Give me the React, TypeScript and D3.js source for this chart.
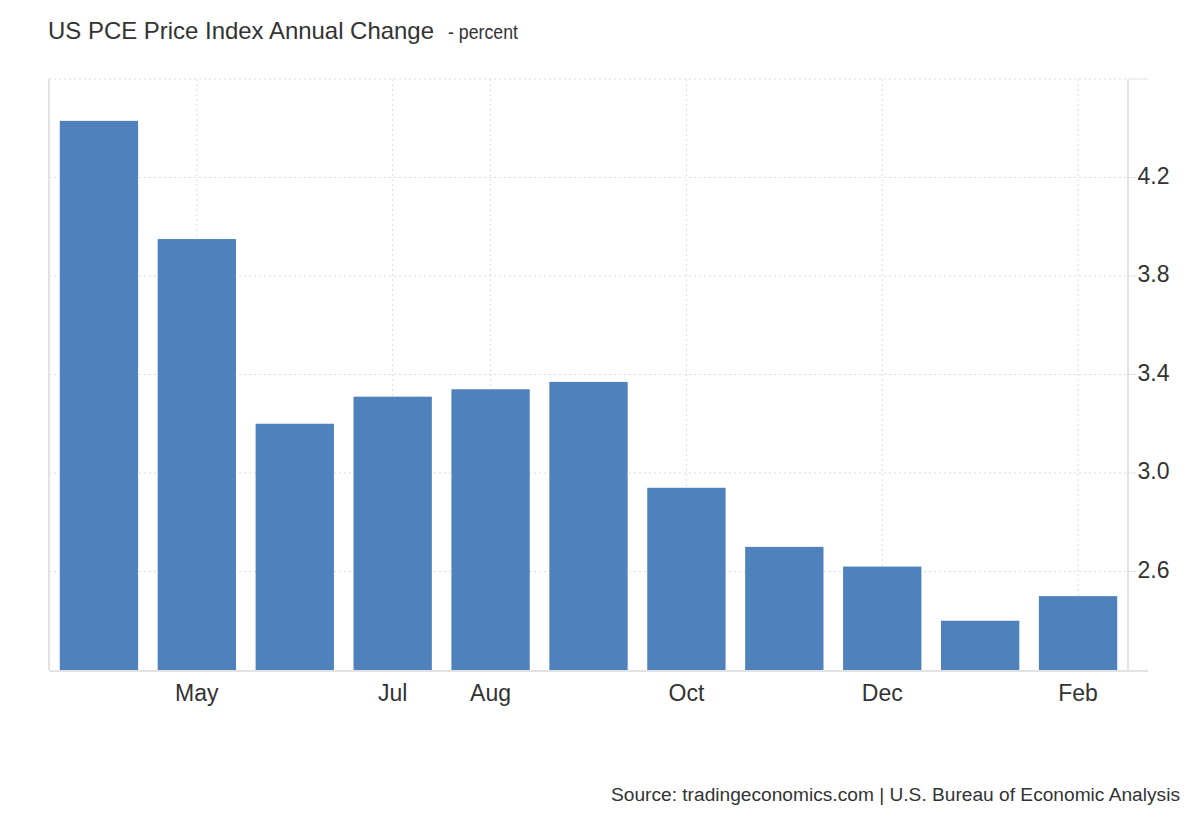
import React from "react";
import * as d3 from "d3";

const months = ["Apr", "May", "Jun", "Jul", "Aug", "Sep", "Oct", "Nov", "Dec", "Jan", "Feb"];
const values = [4.43, 3.95, 3.2, 3.31, 3.34, 3.37, 2.94, 2.7, 2.62, 2.4, 2.5];
const xTickLabels = ["May", "Jul", "Aug", "Oct", "Dec", "Feb"];
const yTicks = [2.6, 3.0, 3.4, 3.8, 4.2, 4.6];
const yLabels = [2.6, 3.0, 3.4, 3.8, 4.2];

const W = 1200;
const H = 820;
const left = 49;
const right = 1128;
const top = 79;
const bottom = 670;
const FONT = "'Liberation Sans', Arial, Helvetica, sans-serif";

export default function App() {
  const x = d3.scaleBand<string>().domain(months).range([left, right]).paddingInner(0.2).paddingOuter(0.11);
  const y = d3.scaleLinear().domain([2.2, 4.6]).range([bottom, top]);
  const grid = "#dcdcdc";
  const axis = "#e2e2e2";
  return (
    <svg width={W} height={H} style={{ position: "absolute", left: 0, top: 0, background: "#fff" }} fontFamily={FONT}>
      <rect x={0} y={0} width={W} height={H} fill="#fff" />
      <text x={48} y={38.5} fontSize={24} fill="#333" textLength={386} lengthAdjust="spacingAndGlyphs">
        US PCE Price Index Annual Change
      </text>
      <text x={448} y={38.5} fontSize={19.5} fill="#333" textLength={70} lengthAdjust="spacingAndGlyphs">
        - percent
      </text>
      {/* horizontal grid */}
      {yTicks.map((t) => (
        <g key={"h" + t}>
          <line x1={left} x2={right} y1={y(t)} y2={y(t)} stroke={grid} strokeWidth={1} strokeDasharray="2,3" />
          <line x1={right} x2={right + (t === 4.6 ? 20 : 8)} y1={y(t)} y2={y(t)} stroke={axis} strokeWidth={1} />
        </g>
      ))}
      {/* vertical grid */}
      {xTickLabels.map((m) => {
        const cx = (x(m) as number) + x.bandwidth() / 2;
        return (
          <line key={"v" + m} x1={cx} x2={cx} y1={top} y2={bottom} stroke={grid} strokeWidth={1} strokeDasharray="2,3" />
        );
      })}
      {/* bars */}
      {months.map((m, i) => (
        <rect
          key={m}
          x={x(m) as number}
          width={x.bandwidth()}
          y={y(values[i])}
          height={bottom - y(values[i])}
          fill="#4f81bd"
        />
      ))}
      {/* axis lines */}
      <line x1={left} x2={left} y1={top} y2={bottom} stroke={axis} strokeWidth={2} />
      <line x1={right} x2={right} y1={top} y2={bottom} stroke={axis} strokeWidth={2} />
      <line x1={left} x2={right + 20} y1={bottom + 1} y2={bottom + 1} stroke={axis} strokeWidth={2} />
      {/* y labels */}
      {yLabels.map((t) => (
        <text key={"yl" + t} x={1137.5} y={y(t) + 6} fontSize={23} fill="#333">
          {d3.format(".1f")(t)}
        </text>
      ))}
      {/* x labels */}
      {xTickLabels.map((m) => (
        <text
          key={"xl" + m}
          x={(x(m) as number) + x.bandwidth() / 2}
          y={701}
          textAnchor="middle"
          fontSize={23}
          fill="#333"
        >
          {m}
        </text>
      ))}
      <text x={611} y={801} fontSize={18} fill="#333" textLength={569} lengthAdjust="spacingAndGlyphs">
        Source: tradingeconomics.com | U.S. Bureau of Economic Analysis
      </text>
    </svg>
  );
}
